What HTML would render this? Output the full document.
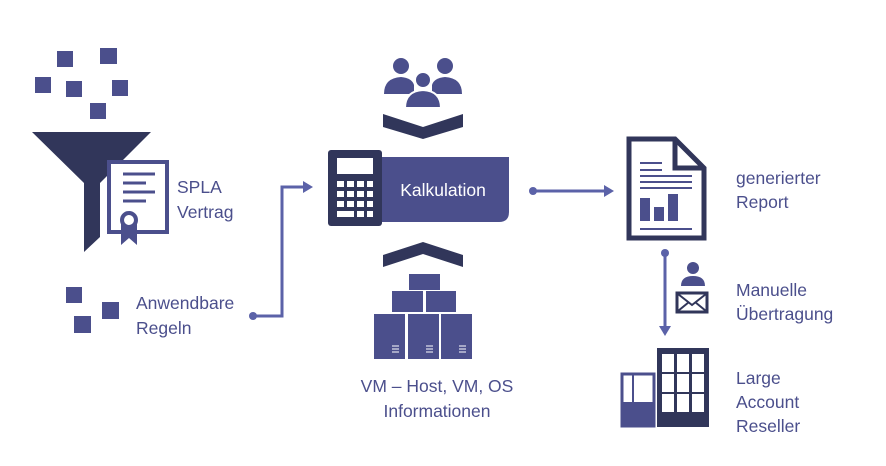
<!DOCTYPE html>
<html><head><meta charset="utf-8"><style>
html,body{margin:0;padding:0;background:#fff;}
svg{display:block}
text{font-family:"Liberation Sans",sans-serif;font-size:17.5px;fill:#4b4f8c}
</style></head><body>
<svg width="886" height="466" viewBox="0 0 886 466" xmlns="http://www.w3.org/2000/svg">
<g fill="#4b4f8c">
<rect x="57" y="51" width="16" height="16"/><rect x="100" y="48" width="17" height="16"/>
<rect x="35" y="77" width="16" height="16"/><rect x="66" y="81" width="16" height="16"/>
<rect x="112" y="80" width="16" height="16"/><rect x="90" y="103" width="16" height="16"/>
<rect x="66" y="287" width="16" height="16"/><rect x="102" y="302" width="17" height="17"/>
<rect x="74" y="316" width="17" height="17"/>
</g>
<path d="M32 132 H151 L100 183 V237 L84 252 V183 Z" fill="#31365a"/>
<rect x="109" y="162" width="58" height="70" fill="#fff" stroke="#4b4f8c" stroke-width="4"/>
<g stroke="#4b4f8c" stroke-width="3"><line x1="123" y1="174" x2="155" y2="174"/><line x1="123" y1="183" x2="146" y2="183"/><line x1="123" y1="192" x2="155" y2="192"/><line x1="123" y1="201" x2="146" y2="201"/></g>
<path d="M121 222 V245 L129 238 L137 245 V222 Z" fill="#4b4f8c"/>
<circle cx="129" cy="220" r="7" fill="#fff" stroke="#4b4f8c" stroke-width="4"/>
<text x="177" y="193">SPLA</text><text x="177" y="218">Vertrag</text>
<text x="136" y="309">Anwendbare</text><text x="136" y="334">Regeln</text>
<g stroke="#5b62a8" stroke-width="3" fill="none"><polyline points="253,316 282,316 282,187 305,187"/></g>
<circle cx="253" cy="316" r="4" fill="#5b62a8"/><path d="M303 181 L313 187 L303 193 Z" fill="#5b62a8"/>
<g fill="#4b4f8c">
<circle cx="401" cy="66" r="8"/><circle cx="445" cy="66" r="8"/>
<path d="M384 94 Q384 78 401 77 Q412 78 414 85 L414 94 Z"/><path d="M462 94 Q462 78 445 77 Q434 78 432 85 L432 94 Z"/>
<circle cx="423" cy="80" r="8" stroke="#fff" stroke-width="2"/>
<path d="M405 108 Q405 91 423 90 Q441 91 441 108 Z" stroke="#fff" stroke-width="2"/>
</g>
<path d="M383 114 L423 127 L463 114 V127 L423 139 L383 127 Z" fill="#31365a"/>
<path d="M383 255 L423 242 L463 255 V267 L423 254 L383 267 Z" fill="#31365a"/>
<path d="M380 157 H509 V212 Q509 222 499 222 H380 Z" fill="#4b4f8c"/>
<text x="443" y="196" text-anchor="middle" style="fill:#fff">Kalkulation</text>
<rect x="328" y="150" width="54" height="76" rx="3" fill="#31365a"/>
<g fill="#fff"><rect x="337" y="158" width="36" height="16"/>
<rect x="337" y="181" width="7" height="6"/><rect x="347" y="181" width="7" height="6"/><rect x="357" y="181" width="7" height="6"/><rect x="367" y="181" width="6" height="6"/>
<rect x="337" y="191" width="7" height="6"/><rect x="347" y="191" width="7" height="6"/><rect x="357" y="191" width="7" height="6"/><rect x="367" y="191" width="6" height="6"/>
<rect x="337" y="201" width="7" height="6"/><rect x="347" y="201" width="7" height="6"/><rect x="357" y="201" width="7" height="6"/><rect x="367" y="201" width="6" height="6"/>
<rect x="337" y="211" width="17" height="6"/><rect x="357" y="211" width="7" height="6"/><rect x="367" y="211" width="6" height="6"/></g>
<g fill="#4b4f8c">
<rect x="409" y="274" width="31" height="16"/><rect x="392" y="291" width="31" height="21"/><rect x="426" y="291" width="30" height="21"/>
<rect x="374" y="314" width="31" height="45"/><rect x="408" y="314" width="31" height="45"/><rect x="441" y="314" width="31" height="45"/>
</g>
<g stroke="#fff" stroke-width="1"><line x1="392" y1="346" x2="399" y2="346"/><line x1="392" y1="349" x2="399" y2="349"/><line x1="392" y1="352" x2="399" y2="352"/>
<line x1="426" y1="346" x2="433" y2="346"/><line x1="426" y1="349" x2="433" y2="349"/><line x1="426" y1="352" x2="433" y2="352"/>
<line x1="459" y1="346" x2="466" y2="346"/><line x1="459" y1="349" x2="466" y2="349"/><line x1="459" y1="352" x2="466" y2="352"/></g>
<text x="437" y="392" text-anchor="middle">VM – Host, VM, OS</text><text x="437" y="417" text-anchor="middle">Informationen</text>
<line x1="533" y1="191" x2="606" y2="191" stroke="#5b62a8" stroke-width="3"/><circle cx="533" cy="191" r="4" fill="#5b62a8"/>
<path d="M604 185 L614 191 L604 197 Z" fill="#5b62a8"/>
<path d="M629 139 H675 L704 168 V238 H629 Z" fill="#fff" stroke="#31365a" stroke-width="5"/>
<path d="M675 139 V168 H704" fill="none" stroke="#31365a" stroke-width="5"/>
<g stroke="#4b4f8c" stroke-width="2"><line x1="640" y1="163" x2="662" y2="163"/><line x1="640" y1="170" x2="662" y2="170"/><line x1="640" y1="176" x2="692" y2="176"/><line x1="640" y1="182" x2="692" y2="182"/><line x1="640" y1="188" x2="692" y2="188"/><line x1="640" y1="229" x2="692" y2="229"/></g>
<g fill="#4b4f8c"><rect x="640" y="198" width="10" height="23"/><rect x="654" y="207" width="10" height="14"/><rect x="668" y="194" width="10" height="27"/></g>
<text x="736" y="184">generierter</text><text x="736" y="208">Report</text>
<line x1="665" y1="253" x2="665" y2="328" stroke="#5b62a8" stroke-width="3"/><circle cx="665" cy="253" r="4" fill="#5b62a8"/>
<path d="M659 326 L665 336 L671 326 Z" fill="#5b62a8"/>
<g fill="#4b4f8c"><circle cx="693" cy="268" r="6"/><path d="M681 286 Q681 276 693 276 Q705 276 705 286 Z"/></g>
<rect x="677" y="293" width="30" height="19" fill="#fff" stroke="#31365a" stroke-width="3"/>
<polyline points="678,294 692,305 706,294" fill="none" stroke="#31365a" stroke-width="2"/>
<line x1="678" y1="311" x2="689" y2="302" stroke="#31365a" stroke-width="2"/><line x1="706" y1="311" x2="695" y2="302" stroke="#31365a" stroke-width="2"/>
<text x="736" y="296">Manuelle</text><text x="736" y="320">Übertragung</text>
<rect x="622" y="374" width="32" height="52" fill="#fff" stroke="#4b4f8c" stroke-width="3"/>
<rect x="622" y="402" width="33" height="25" fill="#4b4f8c"/>
<line x1="633" y1="374" x2="633" y2="402" stroke="#4b4f8c" stroke-width="2"/>
<rect x="657" y="348" width="52" height="79" fill="#31365a"/>
<g fill="#fff"><rect x="662" y="354" width="12" height="18"/><rect x="677" y="354" width="12" height="18"/><rect x="692" y="354" width="12" height="18"/>
<rect x="662" y="374" width="12" height="18"/><rect x="677" y="374" width="12" height="18"/><rect x="692" y="374" width="12" height="18"/>
<rect x="662" y="394" width="12" height="18"/><rect x="677" y="394" width="12" height="18"/><rect x="692" y="394" width="12" height="18"/></g>
<text x="736" y="384">Large</text><text x="736" y="408">Account</text><text x="736" y="432">Reseller</text>
</svg>
</body></html>
